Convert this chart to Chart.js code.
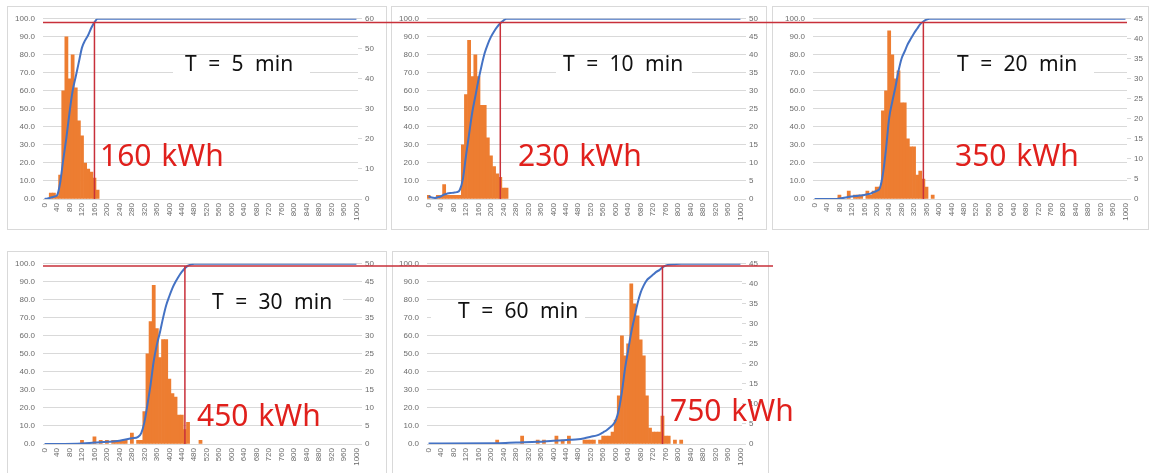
<!DOCTYPE html>
<html>
<head>
<meta charset="utf-8">
<script src="https://cdn.jsdelivr.net/npm/chart.js@4.4.0/dist/chart.umd.min.js"></script>
<style>
  body { margin: 0; background: #fff; width: 1149px; height: 473px; overflow: hidden; position: relative; font-family: "Noto Sans", sans-serif; }
  canvas { position: absolute; }
  .box { position: absolute; background: #fff; }
  .lbl { position: absolute; font-size: 21px; line-height: 1; color: #111; white-space: nowrap; word-spacing: 6px; }
  .kwh { position: absolute; font-size: 30px; line-height: 1; color: #e0201c; white-space: nowrap; word-spacing: 2px; }
</style>
</head>
<body>
<canvas id="chartT5" width="384" height="224" style="left:7px;top:6px"></canvas>
<canvas id="chartT10" width="381" height="224" style="left:391px;top:6px"></canvas>
<canvas id="chartT20" width="377" height="224" style="left:772px;top:6px"></canvas>
<canvas id="chartT30" width="384" height="222" style="left:7px;top:251px"></canvas>
<canvas id="chartT60" width="392" height="222" style="left:391px;top:251px"></canvas>

<div class="box" style="left:173px;top:57px;width:137px;height:20px"></div>
<div class="box" style="left:556px;top:57px;width:136px;height:20px"></div>
<div class="box" style="left:940px;top:57px;width:154px;height:20px"></div>
<div class="box" style="left:200px;top:290px;width:143px;height:24px"></div>
<div class="box" style="left:431px;top:301px;width:154px;height:22px"></div>

<div class="lbl" style="left:185px;top:53px">T = 5 min</div>
<div class="lbl" style="left:563px;top:53px">T = 10 min</div>
<div class="lbl" style="left:957px;top:53px">T = 20 min</div>
<div class="lbl" style="left:212px;top:291px">T = 30 min</div>
<div class="lbl" style="left:458px;top:300px">T = 60 min</div>

<div class="kwh" style="left:100px;top:140px">160 kWh</div>
<div class="kwh" style="left:518px;top:140px">230 kWh</div>
<div class="kwh" style="left:955px;top:140px">350 kWh</div>
<div class="kwh" style="left:197px;top:400px">450 kWh</div>
<div class="kwh" style="left:670px;top:395px">750 kWh</div>

<script>
// x categories: energy bins (kWh)
const energyBins = [
    0, 10, 20, 30, 40, 50, 60, 70, 80, 90, 100, 110, 120, 130, 140, 150, 160, 170, 180, 190,
    200, 210, 220, 230, 240, 250, 260, 270, 280, 290, 300, 310, 320, 330, 340, 350, 360, 370, 380, 390,
    400, 410, 420, 430, 440, 450, 460, 470, 480, 490, 500, 510, 520, 530, 540, 550, 560, 570, 580, 590,
    600, 610, 620, 630, 640, 650, 660, 670, 680, 690, 700, 710, 720, 730, 740, 750, 760, 770, 780, 790,
    800, 810, 820, 830, 840, 850, 860, 870, 880, 890, 900, 910, 920, 930, 940, 950, 960, 970, 980, 990, 1000
].map(String);

// T = 5 min
const binsT5 = [20, 30, 40, 50, 60, 70, 80, 90, 100, 110, 120, 130, 140, 150, 160, 170];
const countsT5 = [2, 2, 1, 8, 36, 54, 40, 48, 37, 26, 21, 12, 10, 9, 7, 3];
const cumXT5 = [0, 10, 20, 30, 40, 50, 60, 70, 80, 90, 100, 110, 120, 130, 140, 150, 160, 170, 1000];
const cumYT5 = [0, 0.3, 0.8, 1.3, 2, 9, 22, 34, 48, 60, 68, 76, 84, 88, 91, 95, 98, 100, 100];

// T = 10 min
const binsT10 = [0, 30, 40, 50, 60, 70, 80, 90, 100, 110, 120, 130, 140, 150, 160, 170, 180, 190, 200, 210, 220, 230, 240, 250];
const countsT10 = [1, 1, 1, 4, 1, 1, 1, 1, 1, 15, 29, 44, 34, 40, 34, 26, 26, 17, 12, 9, 7, 6, 3, 3];
const cumXT10 = [0, 10, 20, 30, 40, 50, 60, 70, 80, 90, 100, 110, 120, 130, 140, 150, 160, 170, 180, 190, 200, 210, 220, 230, 240, 250, 1000];
const cumYT10 = [1.5, 0.8, 0.6, 1, 1.5, 2.5, 3, 3.3, 3.5, 3.8, 5, 11, 24, 36, 48, 57, 66, 74, 81, 86, 90, 93, 95.5, 97.5, 99, 100, 100];

// T = 20 min
const binsT20 = [80, 110, 130, 140, 150, 170, 180, 190, 200, 210, 220, 230, 240, 250, 260, 270, 280, 290, 300, 310, 320, 330, 340, 350, 360, 380];
const countsT20 = [1, 2, 1, 1, 1, 2, 1, 2, 3, 3, 22, 27, 42, 36, 30, 32, 24, 24, 15, 13, 13, 6, 7, 5, 3, 1];
const cumXT20 = [0, 70, 80, 90, 100, 110, 120, 130, 140, 150, 160, 170, 180, 190, 200, 210, 220, 230, 240, 250, 260, 270, 280, 290, 300, 310, 320, 330, 340, 350, 360, 370, 1000];
const cumYT20 = [0, 0, 0.3, 0.5, 0.8, 1.2, 1.4, 1.6, 1.8, 2, 2.2, 2.6, 3, 3.8, 4.5, 6, 14, 28, 45, 54, 62, 71, 78, 82, 86, 89, 92, 94.5, 97, 98.5, 99.5, 100, 100];

// T = 30 min
const binsT30 = [120, 160, 180, 200, 220, 230, 240, 250, 260, 280, 300, 310, 320, 330, 340, 350, 360, 370, 380, 390, 400, 410, 420, 430, 440, 450, 460, 500];
const countsT30 = [1, 2, 1, 1, 1, 1, 1, 1, 1, 3, 1, 1, 9, 25, 34, 44, 32, 24, 29, 29, 18, 14, 13, 8, 8, 4, 6, 1];
const cumXT30 = [0, 120, 160, 200, 240, 280, 300, 310, 320, 330, 340, 350, 360, 370, 380, 390, 400, 410, 420, 430, 440, 450, 460, 470, 480, 1000];
const cumYT30 = [0, 0.3, 0.8, 1.2, 1.8, 3.2, 4, 6, 12, 22, 33, 46, 55, 62, 70, 77, 82, 86.5, 90, 93, 95.5, 97.5, 99, 99.7, 100, 100];

// T = 60 min
const binsT60 = [220, 300, 350, 370, 410, 430, 450, 500, 510, 520, 530, 550, 560, 570, 580, 590, 600, 610, 620, 630, 640, 650, 660, 670, 680, 690, 700, 710, 720, 730, 740, 750, 760, 770, 790, 810];
const countsT60 = [1, 2, 1, 1, 2, 1, 2, 1, 1, 1, 1, 1, 2, 2, 2, 3, 6, 12, 27, 22, 25, 40, 35, 32, 26, 22, 12, 4, 3, 3, 3, 7, 2, 2, 1, 1];
const cumXT60 = [0, 220, 280, 350, 400, 450, 480, 500, 520, 540, 550, 560, 570, 580, 590, 600, 610, 620, 630, 640, 650, 660, 670, 680, 690, 700, 710, 720, 730, 740, 750, 760, 770, 790, 810, 1000];
const cumYT60 = [0.3, 0.4, 0.8, 1.2, 1.8, 2.3, 2.6, 3.2, 4, 4.8, 5.5, 6.5, 7.5, 9, 10.5, 13, 19, 29, 42, 52, 62, 70, 78, 84, 88, 91, 92.5, 94, 95.5, 96.5, 98, 99, 99.5, 99.8, 100, 100];

// right axis (count) ranges
const countMax = [60, 50, 45, 50, 45];
const countStep = [10, 5, 5, 5, 5];
// threshold energy (kWh) marked by the red lines
const thresholds = [160, 230, 350, 450, 750];

const tickFont = { family: 'Liberation Sans', size: 8 };
const tickColor = '#6b6b6b';
const gridColor = '#d9d9d9';

// panel frame + red threshold lines
const panelDeco = {
    id: 'panelDeco',
    beforeDraw(chart, args, opts) {
        const ctx = chart.ctx;
        ctx.save();
        ctx.strokeStyle = gridColor;
        ctx.lineWidth = 1;
        ctx.strokeRect(opts.frame[0] + 0.5, opts.frame[1] + 0.5, opts.frame[2], opts.frame[3]);
        ctx.restore();
    },
    afterDraw(chart, args, opts) {
        const { ctx, chartArea, scales } = chart;
        const yLevel = scales.y.getPixelForValue(opts.level);
        const xThr = scales.x.getPixelForValue(opts.threshold / 10);
        const x0 = opts.hFrom === 'area' ? chartArea.left : opts.hFrom;
        let x1 = opts.hTo;
        if (opts.hTo === 'area') x1 = chartArea.right;
        if (opts.hTo === 'edge') x1 = chart.width;
        ctx.save();
        ctx.strokeStyle = '#c8303a';
        ctx.lineWidth = 1.5;
        ctx.beginPath();
        ctx.moveTo(xThr, scales.y.getPixelForValue(0));
        ctx.lineTo(xThr, yLevel);
        ctx.moveTo(x0, yLevel);
        ctx.lineTo(x1, yLevel);
        ctx.stroke();
        ctx.restore();
    }
};

function makePanel(canvasId, bins, counts, cumX, cumY, idx, sz, deco) {
    const ctx = document.getElementById(canvasId).getContext('2d');
    return new Chart(ctx, {
        type: 'bar',
        data: {
            labels: energyBins,
            datasets: [
                {
                    type: 'line',
                    data: cumX.map((x, i) => ({ x: String(x), y: cumY[i] })),
                    yAxisID: 'y',
                    borderColor: '#4472c4',
                    borderWidth: 2,
                    pointRadius: 0,
                    cubicInterpolationMode: 'monotone',
                    order: 1
                },
                {
                    type: 'bar',
                    data: bins.map((b, i) => ({ x: String(b), y: counts[i] })),
                    yAxisID: 'y1',
                    backgroundColor: '#ed7d31',
                    barPercentage: 1,
                    categoryPercentage: 1,
                    order: 2
                }
            ]
        },
        options: {
            responsive: false,
            animation: false,
            layout: { padding: { top: sz.top, left: 0, right: 0, bottom: 0 } },
            plugins: {
                legend: { display: false },
                tooltip: { enabled: false },
                panelDeco: {
                    frame: deco.frame,
                    level: deco.level,
                    threshold: thresholds[idx],
                    hFrom: deco.hFrom,
                    hTo: deco.hTo
                }
            },
            scales: {
                x: {
                    offset: true,
                    grid: { display: false, drawTicks: false },
                    border: { color: gridColor },
                    ticks: {
                        autoSkip: false,
                        minRotation: 90,
                        maxRotation: 90,
                        padding: 4,
                        font: tickFont,
                        color: tickColor,
                        callback: function(v, i) { return i % 4 === 0 ? this.getLabelForValue(v) : null; }
                    },
                    afterFit: s => { s.height = sz.xh; }
                },
                y: {
                    position: 'left',
                    min: 0,
                    max: 100,
                    grid: { color: gridColor, drawTicks: false },
                    border: { display: false },
                    ticks: { stepSize: 10, padding: 8, font: tickFont, color: tickColor, callback: v => v.toFixed(1) },
                    afterFit: s => { s.width = sz.yw; }
                },
                y1: {
                    position: 'right',
                    min: 0,
                    max: countMax[idx],
                    grid: { drawOnChartArea: false, color: gridColor, tickLength: 4 },
                    border: { display: false },
                    ticks: { stepSize: countStep[idx], padding: 3, font: tickFont, color: tickColor },
                    afterFit: s => { s.width = sz.y1w; }
                }
            }
        },
        plugins: [panelDeco]
    });
}

makePanel('chartT5', binsT5, countsT5, cumXT5, cumYT5, 0,
    { top: 11, xh: 31, yw: 36, y1w: 33 },
    { frame: [0, 0, 379, 223], level: 98, hFrom: 'area', hTo: 'edge' });
makePanel('chartT10', binsT10, countsT10, cumXT10, cumYT10, 1,
    { top: 11, xh: 31, yw: 36, y1w: 30 },
    { frame: [0, 0, 375, 223], level: 98, hFrom: 0, hTo: 'edge' });
makePanel('chartT20', binsT20, countsT20, cumXT20, cumYT20, 2,
    { top: 11, xh: 31, yw: 41, y1w: 22 },
    { frame: [0, 0, 376, 223], level: 98, hFrom: 0, hTo: 'area' });
makePanel('chartT30', binsT30, countsT30, cumXT30, cumYT30, 3,
    { top: 12, xh: 29, yw: 36, y1w: 33 },
    { frame: [0, 0, 379, 240], level: 98.8, hFrom: 'area', hTo: 'edge' });
makePanel('chartT60', binsT60, countsT60, cumXT60, cumYT60, 4,
    { top: 12, xh: 29, yw: 36, y1w: 41 },
    { frame: [1, 0, 376, 240], level: 98.8, hFrom: 0, hTo: 382 });
</script>
</body>
</html>
